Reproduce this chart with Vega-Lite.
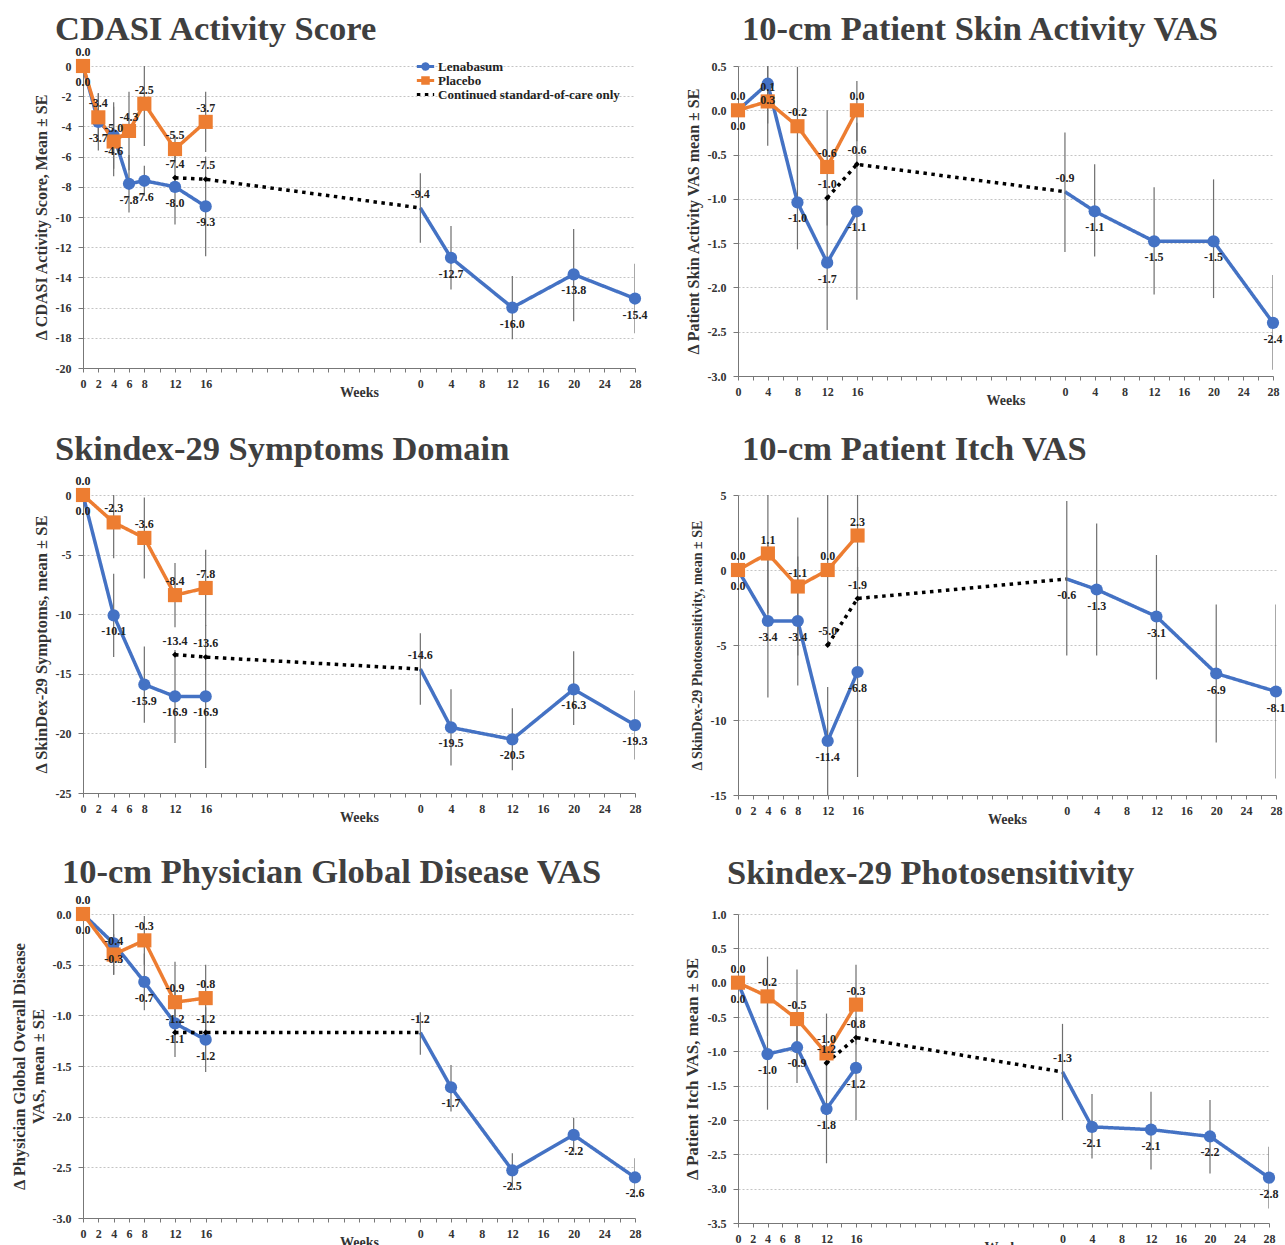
{
  "$schema": "https://vega.github.io/schema/vega-lite/v6.json",
  "padding": {"left": 11, "top": 11, "right": 0, "bottom": 0},
  "datasets": {
    "d": [
      {"p":1,"s":"Lenabasum","per":"DB","t":0,"v":0},
      {"p":1,"s":"Lenabasum","per":"DB","t":2,"v":-3.7,"lo":-5.6,"hi":-1.8},
      {"p":1,"s":"Lenabasum","per":"DB","t":4,"v":-4.6,"lo":-6.8,"hi":-2.4},
      {"p":1,"s":"Lenabasum","per":"DB","t":6,"v":-7.8,"lo":-9.7,"hi":-5.9},
      {"p":1,"s":"Lenabasum","per":"DB","t":8,"v":-7.6,"lo":-8.6,"hi":-6.6},
      {"p":1,"s":"Lenabasum","per":"DB","t":12,"v":-8.0,"lo":-10.5,"hi":-5.5},
      {"p":1,"s":"Lenabasum","per":"DB","t":16,"v":-9.3,"lo":-12.6,"hi":-6.0},
      {"p":1,"s":"Lenabasum","per":"OLE","t":44,"v":-9.4,"lo":-11.7,"hi":-7.1},
      {"p":1,"s":"Lenabasum","per":"OLE","t":48,"v":-12.7,"lo":-14.8,"hi":-10.6},
      {"p":1,"s":"Lenabasum","per":"OLE","t":56,"v":-16.0,"lo":-18.1,"hi":-13.9},
      {"p":1,"s":"Lenabasum","per":"OLE","t":64,"v":-13.8,"lo":-16.9,"hi":-10.8},
      {"p":1,"s":"Lenabasum","per":"OLE","t":72,"v":-15.4,"lo":-17.7,"hi":-13.1},
      {"p":1,"s":"Placebo","per":"DB","t":0,"v":0},
      {"p":1,"s":"Placebo","per":"DB","t":2,"v":-3.4,"lo":-5.0,"hi":-1.8},
      {"p":1,"s":"Placebo","per":"DB","t":4,"v":-5.0,"lo":-7.3,"hi":-2.7},
      {"p":1,"s":"Placebo","per":"DB","t":6,"v":-4.3,"lo":-6.9,"hi":-1.7},
      {"p":1,"s":"Placebo","per":"DB","t":8,"v":-2.5,"lo":-5.3,"hi":0},
      {"p":1,"s":"Placebo","per":"DB","t":12,"v":-5.5,"lo":-6.4,"hi":-4.6},
      {"p":1,"s":"Placebo","per":"DB","t":16,"v":-3.7,"lo":-5.7,"hi":-1.7},
      {"p":1,"s":"Continued standard-of-care only","per":"SOC","t":12,"v":-7.4},
      {"p":1,"s":"Continued standard-of-care only","per":"SOC","t":16,"v":-7.5},
      {"p":1,"s":"Continued standard-of-care only","per":"SOC","t":44,"v":-9.4},

      {"p":2,"s":"Lenabasum","per":"DB","t":0,"v":0},
      {"p":2,"s":"Lenabasum","per":"DB","t":4,"v":0.3,"lo":-0.15,"hi":0.5},
      {"p":2,"s":"Lenabasum","per":"DB","t":8,"v":-1.04,"lo":-1.57,"hi":-0.51},
      {"p":2,"s":"Lenabasum","per":"DB","t":12,"v":-1.72,"lo":-2.48,"hi":-0.96},
      {"p":2,"s":"Lenabasum","per":"DB","t":16,"v":-1.14,"lo":-2.14,"hi":-0.14},
      {"p":2,"s":"Lenabasum","per":"OLE","t":44,"v":-0.92,"lo":-1.6,"hi":-0.25},
      {"p":2,"s":"Lenabasum","per":"OLE","t":48,"v":-1.14,"lo":-1.65,"hi":-0.61},
      {"p":2,"s":"Lenabasum","per":"OLE","t":56,"v":-1.48,"lo":-2.08,"hi":-0.87},
      {"p":2,"s":"Lenabasum","per":"OLE","t":64,"v":-1.48,"lo":-2.12,"hi":-0.78},
      {"p":2,"s":"Lenabasum","per":"OLE","t":72,"v":-2.4,"lo":-2.93,"hi":-1.86},
      {"p":2,"s":"Placebo","per":"DB","t":0,"v":0},
      {"p":2,"s":"Placebo","per":"DB","t":4,"v":0.1,"lo":-0.4,"hi":0.5},
      {"p":2,"s":"Placebo","per":"DB","t":8,"v":-0.18,"lo":-0.85,"hi":0.49},
      {"p":2,"s":"Placebo","per":"DB","t":12,"v":-0.64,"lo":-1.3,"hi":0.0},
      {"p":2,"s":"Placebo","per":"DB","t":16,"v":0.0,"lo":-0.35,"hi":0.33},
      {"p":2,"s":"Continued standard-of-care only","per":"SOC","t":12,"v":-0.99},
      {"p":2,"s":"Continued standard-of-care only","per":"SOC","t":16,"v":-0.61},
      {"p":2,"s":"Continued standard-of-care only","per":"SOC","t":44,"v":-0.92},

      {"p":3,"s":"Lenabasum","per":"DB","t":0,"v":0},
      {"p":3,"s":"Lenabasum","per":"DB","t":4,"v":-10.1,"lo":-13.6,"hi":-6.6},
      {"p":3,"s":"Lenabasum","per":"DB","t":8,"v":-15.9,"lo":-19.1,"hi":-12.7},
      {"p":3,"s":"Lenabasum","per":"DB","t":12,"v":-16.9,"lo":-20.8,"hi":-13.0},
      {"p":3,"s":"Lenabasum","per":"DB","t":16,"v":-16.9,"lo":-22.9,"hi":-10.9},
      {"p":3,"s":"Lenabasum","per":"OLE","t":44,"v":-14.6,"lo":-17.6,"hi":-11.6},
      {"p":3,"s":"Lenabasum","per":"OLE","t":48,"v":-19.5,"lo":-22.7,"hi":-16.3},
      {"p":3,"s":"Lenabasum","per":"OLE","t":56,"v":-20.5,"lo":-23.1,"hi":-17.9},
      {"p":3,"s":"Lenabasum","per":"OLE","t":64,"v":-16.3,"lo":-19.3,"hi":-13.1},
      {"p":3,"s":"Lenabasum","per":"OLE","t":72,"v":-19.3,"lo":-22.2,"hi":-16.4},
      {"p":3,"s":"Placebo","per":"DB","t":0,"v":0},
      {"p":3,"s":"Placebo","per":"DB","t":4,"v":-2.3,"lo":-5.3,"hi":0},
      {"p":3,"s":"Placebo","per":"DB","t":8,"v":-3.6,"lo":-7.0,"hi":-0.2},
      {"p":3,"s":"Placebo","per":"DB","t":12,"v":-8.4,"lo":-11.1,"hi":-5.7},
      {"p":3,"s":"Placebo","per":"DB","t":16,"v":-7.8,"lo":-11.0,"hi":-4.6},
      {"p":3,"s":"Continued standard-of-care only","per":"SOC","t":12,"v":-13.4},
      {"p":3,"s":"Continued standard-of-care only","per":"SOC","t":16,"v":-13.6},
      {"p":3,"s":"Continued standard-of-care only","per":"SOC","t":44,"v":-14.6},

      {"p":4,"s":"Lenabasum","per":"DB","t":0,"v":0},
      {"p":4,"s":"Lenabasum","per":"DB","t":4,"v":-3.4,"lo":-8.5,"hi":1.7},
      {"p":4,"s":"Lenabasum","per":"DB","t":8,"v":-3.4,"lo":-7.7,"hi":0.9},
      {"p":4,"s":"Lenabasum","per":"DB","t":12,"v":-11.4,"lo":-15.0,"hi":-7.8},
      {"p":4,"s":"Lenabasum","per":"DB","t":16,"v":-6.8,"lo":-13.8,"hi":0.2},
      {"p":4,"s":"Lenabasum","per":"OLE","t":44,"v":-0.6,"lo":-5.7,"hi":4.6},
      {"p":4,"s":"Lenabasum","per":"OLE","t":48,"v":-1.3,"lo":-5.7,"hi":3.1},
      {"p":4,"s":"Lenabasum","per":"OLE","t":56,"v":-3.1,"lo":-7.3,"hi":1.0},
      {"p":4,"s":"Lenabasum","per":"OLE","t":64,"v":-6.9,"lo":-11.5,"hi":-2.3},
      {"p":4,"s":"Lenabasum","per":"OLE","t":72,"v":-8.1,"lo":-13.9,"hi":-2.3},
      {"p":4,"s":"Placebo","per":"DB","t":0,"v":0},
      {"p":4,"s":"Placebo","per":"DB","t":4,"v":1.1,"lo":-2.9,"hi":5.0},
      {"p":4,"s":"Placebo","per":"DB","t":8,"v":-1.1,"lo":-5.7,"hi":3.5},
      {"p":4,"s":"Placebo","per":"DB","t":12,"v":0.0,"lo":-5.0,"hi":5.0},
      {"p":4,"s":"Placebo","per":"DB","t":16,"v":2.3,"lo":-0.7,"hi":5.0},
      {"p":4,"s":"Continued standard-of-care only","per":"SOC","t":12,"v":-5.0},
      {"p":4,"s":"Continued standard-of-care only","per":"SOC","t":16,"v":-1.9},
      {"p":4,"s":"Continued standard-of-care only","per":"SOC","t":44,"v":-0.6},

      {"p":5,"s":"Lenabasum","per":"DB","t":0,"v":0},
      {"p":5,"s":"Lenabasum","per":"DB","t":4,"v":-0.29,"lo":-0.6,"hi":0.0},
      {"p":5,"s":"Lenabasum","per":"DB","t":8,"v":-0.67,"lo":-0.95,"hi":-0.39},
      {"p":5,"s":"Lenabasum","per":"DB","t":12,"v":-1.08,"lo":-1.41,"hi":-0.75},
      {"p":5,"s":"Lenabasum","per":"DB","t":16,"v":-1.24,"lo":-1.56,"hi":-0.92},
      {"p":5,"s":"Lenabasum","per":"OLE","t":44,"v":-1.17,"lo":-1.39,"hi":-0.97},
      {"p":5,"s":"Lenabasum","per":"OLE","t":48,"v":-1.71,"lo":-1.95,"hi":-1.49},
      {"p":5,"s":"Lenabasum","per":"OLE","t":56,"v":-2.53,"lo":-2.7,"hi":-2.36},
      {"p":5,"s":"Lenabasum","per":"OLE","t":64,"v":-2.18,"lo":-2.35,"hi":-2.01},
      {"p":5,"s":"Lenabasum","per":"OLE","t":72,"v":-2.6,"lo":-2.8,"hi":-2.41},
      {"p":5,"s":"Placebo","per":"DB","t":0,"v":0},
      {"p":5,"s":"Placebo","per":"DB","t":4,"v":-0.4,"lo":-0.6,"hi":-0.2},
      {"p":5,"s":"Placebo","per":"DB","t":8,"v":-0.26,"lo":-0.5,"hi":-0.02},
      {"p":5,"s":"Placebo","per":"DB","t":12,"v":-0.87,"lo":-1.27,"hi":-0.47},
      {"p":5,"s":"Placebo","per":"DB","t":16,"v":-0.83,"lo":-1.16,"hi":-0.5},
      {"p":5,"s":"Continued standard-of-care only","per":"SOC","t":12,"v":-1.17},
      {"p":5,"s":"Continued standard-of-care only","per":"SOC","t":16,"v":-1.17},
      {"p":5,"s":"Continued standard-of-care only","per":"SOC","t":44,"v":-1.17},

      {"p":6,"s":"Lenabasum","per":"DB","t":0,"v":0},
      {"p":6,"s":"Lenabasum","per":"DB","t":4,"v":-1.04,"lo":-1.85,"hi":-0.25},
      {"p":6,"s":"Lenabasum","per":"DB","t":8,"v":-0.94,"lo":-1.46,"hi":-0.46},
      {"p":6,"s":"Lenabasum","per":"DB","t":12,"v":-1.84,"lo":-2.63,"hi":-1.09},
      {"p":6,"s":"Lenabasum","per":"DB","t":16,"v":-1.24,"lo":-2.0,"hi":-0.5},
      {"p":6,"s":"Lenabasum","per":"OLE","t":44,"v":-1.3,"lo":-2.0,"hi":-0.6},
      {"p":6,"s":"Lenabasum","per":"OLE","t":48,"v":-2.1,"lo":-2.56,"hi":-1.62},
      {"p":6,"s":"Lenabasum","per":"OLE","t":56,"v":-2.14,"lo":-2.72,"hi":-1.59},
      {"p":6,"s":"Lenabasum","per":"OLE","t":64,"v":-2.24,"lo":-2.78,"hi":-1.71},
      {"p":6,"s":"Lenabasum","per":"OLE","t":72,"v":-2.84,"lo":-3.29,"hi":-2.39},
      {"p":6,"s":"Placebo","per":"DB","t":0,"v":0},
      {"p":6,"s":"Placebo","per":"DB","t":4,"v":-0.2,"lo":-0.78,"hi":0.38},
      {"p":6,"s":"Placebo","per":"DB","t":8,"v":-0.53,"lo":-1.25,"hi":0.19},
      {"p":6,"s":"Placebo","per":"DB","t":12,"v":-1.03,"lo":-1.61,"hi":-0.45},
      {"p":6,"s":"Placebo","per":"DB","t":16,"v":-0.32,"lo":-0.9,"hi":0.26},
      {"p":6,"s":"Continued standard-of-care only","per":"SOC","t":12,"v":-1.17},
      {"p":6,"s":"Continued standard-of-care only","per":"SOC","t":16,"v":-0.8},
      {"p":6,"s":"Continued standard-of-care only","per":"SOC","t":44,"v":-1.3}
    ]
  },
  "config": {
    "font": "Liberation Serif",
    "view": {"stroke": null},
    "locale": {"number": {"decimal": ".", "thousands": ",", "grouping": [3], "currency": ["$", ""], "minus": "-"}},
    "title": {"font": "Liberation Serif", "fontWeight": "bold", "fontSize": 34.5, "color": "#3f3f3f", "anchor": "start", "frame": "group", "baseline": "alphabetic"},
    "axis": {"labelFont": "Liberation Serif", "labelFontWeight": "bold", "labelColor": "#333333", "titleFont": "Liberation Serif", "titleFontWeight": "bold", "titleColor": "#333333", "domainColor": "#777777", "tickColor": "#777777", "gridColor": "#c4c4c4", "gridDash": [2, 2]},
    "axisY": {"labelFontSize": 12, "tickSize": 5, "labelPadding": 7, "titleFontSize": 16, "titlePadding": 6},
    "axisX": {"labelFontSize": 12, "tickSize": 4, "labelPadding": 6, "titleFontSize": 14, "titlePadding": -4, "grid": false, "labelOverlap": false, "labelFlush": false, "labelAngle": 0}
  },
  "columns": 2,
  "bounds": "flush",
  "spacing": {"row": 119, "column": 103},
  "resolve": {"scale": {"x": "independent", "y": "independent", "color": "independent", "strokeDash": "independent"}},
  "concat": [
    {
      "width": 552, "height": 302,
      "title": {"text": "CDASI Activity Score", "dx": -28, "offset": -1},
      "data": {"name": "d"},
      "transform": [{"filter": "datum.p == 1"}],
      "encoding": {
        "x": {"field": "t", "type": "quantitative", "scale": {"domain": [0, 72], "nice": false, "zero": false},
          "axis": {"title": "Weeks", "values": [0,2,4,6,8,10,12,14,16,18,20,22,24,26,28,30,32,34,36,38,40,42,44,46,48,50,52,54,56,58,60,62,64,66,68,70,72],
            "labelExpr": "datum.value <= 16 ? (indexof([0,2,4,6,8,12,16], datum.value) >= 0 ? '' + datum.value : '') : (datum.value >= 44 && (datum.value - 44) % 4 == 0 ? '' + (datum.value - 44) : '')"}},
        "y": {"field": "v", "type": "quantitative", "scale": {"domain": [-20, 0], "nice": false, "zero": false},
          "axis": {"title": "Δ CDASI Activity Score, Mean ± SE", "titleFontSize": 16, "values": [-20,-18,-16,-14,-12,-10,-8,-6,-4,-2,0], "format": "d", "grid": true}}
      },
      "layer": [
        {"mark": {"type": "line", "strokeWidth": 3.5, "strokeCap": "butt"},
          "encoding": {
            "color": {"field": "s", "type": "nominal", "scale": {"domain": ["Lenabasum", "Placebo", "Continued standard-of-care only"], "range": ["#4472C4", "#ED7D31", "#000000"]},
              "legend": {"orient": "none", "legendX": 332, "legendY": -6, "title": null, "symbolType": "stroke", "symbolStrokeWidth": 3, "symbolSize": 300, "symbolDash": [1, 0], "clipHeight": 13, "labelFont": "Liberation Serif", "labelFontWeight": "bold", "labelFontSize": 13, "labelColor": "#222222", "labelLimit": 400, "rowPadding": 0, "labelOffset": 2, "padding": 0,
                "encode": {"symbols": {"update": {
                  "shape": {"signal": "datum.value == 'Lenabasum' ? 'M-1,0L1,0M0.32,0A0.32,0.32,0,1,1,-0.32,0A0.32,0.32,0,1,1,0.32,0Z' : (datum.value == 'Placebo' ? 'M-1,0L1,0M-0.32,-0.32L0.32,-0.32L0.32,0.32L-0.32,0.32Z' : 'M-1,0L1,0')"},
                  "fill": {"signal": "datum.value == 'Lenabasum' ? '#4472C4' : (datum.value == 'Placebo' ? '#ED7D31' : '#000000')"},
                  "strokeDash": {"signal": "[1, 0]"}}}}}},
            "strokeDash": {"field": "s", "type": "nominal", "scale": {"domain": ["Lenabasum", "Placebo", "Continued standard-of-care only"], "range": [[1, 0], [1, 0], [3.5, 4.5]]}, "legend": null},
            "detail": {"field": "per"}}},
        {"transform": [{"filter": "isValid(datum.lo)"}], "mark": {"type": "rule", "color": "#6e6e6e", "strokeWidth": 1.2, "clip": true},
          "encoding": {"y": {"field": "lo", "type": "quantitative", "scale": {"domain": [-20, 0], "nice": false, "zero": false},
            "axis": {"title": "Δ CDASI Activity Score, Mean ± SE", "titleFontSize": 16, "values": [-20,-18,-16,-14,-12,-10,-8,-6,-4,-2,0], "format": "d", "grid": true}}, "y2": {"field": "hi"}}},
        {"transform": [{"filter": "datum.s == 'Lenabasum' && datum.t != 44"}], "mark": {"type": "point", "shape": "circle", "filled": true, "size": 150, "color": "#4472C4", "opacity": 1}},
        {"transform": [{"filter": "datum.s == 'Placebo'"}], "mark": {"type": "point", "shape": "square", "filled": true, "size": 200, "color": "#ED7D31", "opacity": 1}},
        {"transform": [{"filter": "datum.per == 'SOC' && datum.t <= 16"}], "mark": {"type": "point", "shape": "diamond", "filled": true, "size": 35, "color": "#000000", "opacity": 1}},
        {"transform": [{"filter": "datum.s == 'Placebo' || (datum.per == 'SOC' && datum.t <= 16) || (datum.s == 'Lenabasum' && datum.t == 44)"}],
          "mark": {"type": "text", "dy": -14, "fontSize": 12, "fontWeight": "bold", "color": "#222222"},
          "encoding": {"text": {"field": "v", "type": "quantitative", "format": ".1f"}}},
        {"transform": [{"filter": "datum.s == 'Lenabasum' && datum.t != 44"}],
          "mark": {"type": "text", "dy": 16, "fontSize": 12, "fontWeight": "bold", "color": "#222222"},
          "encoding": {"text": {"field": "v", "type": "quantitative", "format": ".1f"}}}
      ]
    },
    {
      "width": 535, "height": 310,
      "title": {"text": "10-cm Patient Skin Activity VAS", "dx": 4, "offset": 13},
      "data": {"name": "d"},
      "transform": [{"filter": "datum.p == 2"}],
      "encoding": {
        "x": {"field": "t", "type": "quantitative", "scale": {"domain": [0, 72], "nice": false, "zero": false},
          "axis": {"title": "Weeks", "values": [0,2,4,6,8,10,12,14,16,18,20,22,24,26,28,30,32,34,36,38,40,42,44,46,48,50,52,54,56,58,60,62,64,66,68,70,72],
            "labelExpr": "datum.value <= 16 ? (indexof([0,4,8,12,16], datum.value) >= 0 ? '' + datum.value : '') : (datum.value >= 44 && (datum.value - 44) % 4 == 0 ? '' + (datum.value - 44) : '')"}},
        "y": {"field": "v", "type": "quantitative", "scale": {"domain": [-3, 0.5], "nice": false, "zero": false},
          "axis": {"title": "Δ Patient Skin Activity VAS mean ± SE", "titleFontSize": 16, "values": [-3,-2.5,-2,-1.5,-1,-0.5,0,0.5], "format": ".1f", "grid": true}}
      },
      "layer": [
        {"mark": {"type": "line", "strokeWidth": 3.5, "strokeCap": "butt"},
          "encoding": {
            "color": {"field": "s", "type": "nominal", "scale": {"domain": ["Lenabasum", "Placebo", "Continued standard-of-care only"], "range": ["#4472C4", "#ED7D31", "#000000"]}, "legend": null},
            "strokeDash": {"field": "s", "type": "nominal", "scale": {"domain": ["Lenabasum", "Placebo", "Continued standard-of-care only"], "range": [[1, 0], [1, 0], [3.5, 4.5]]}, "legend": null},
            "detail": {"field": "per"}}},
        {"transform": [{"filter": "isValid(datum.lo)"}], "mark": {"type": "rule", "color": "#6e6e6e", "strokeWidth": 1.2, "clip": true},
          "encoding": {"y": {"field": "lo", "type": "quantitative", "scale": {"domain": [-3, 0.5], "nice": false, "zero": false},
            "axis": {"title": "Δ Patient Skin Activity VAS mean ± SE", "titleFontSize": 16, "values": [-3,-2.5,-2,-1.5,-1,-0.5,0,0.5], "format": ".1f", "grid": true}}, "y2": {"field": "hi"}}},
        {"transform": [{"filter": "datum.s == 'Lenabasum' && datum.t != 44"}], "mark": {"type": "point", "shape": "circle", "filled": true, "size": 150, "color": "#4472C4", "opacity": 1}},
        {"transform": [{"filter": "datum.s == 'Placebo'"}], "mark": {"type": "point", "shape": "square", "filled": true, "size": 200, "color": "#ED7D31", "opacity": 1}},
        {"transform": [{"filter": "datum.per == 'SOC' && datum.t <= 16"}], "mark": {"type": "point", "shape": "diamond", "filled": true, "size": 35, "color": "#000000", "opacity": 1}},
        {"transform": [{"filter": "datum.s == 'Placebo' || (datum.per == 'SOC' && datum.t <= 16) || (datum.s == 'Lenabasum' && datum.t == 44)"}],
          "mark": {"type": "text", "dy": -14, "fontSize": 12, "fontWeight": "bold", "color": "#222222"},
          "encoding": {"text": {"field": "v", "type": "quantitative", "format": ".1f"}}},
        {"transform": [{"filter": "datum.s == 'Lenabasum' && datum.t != 44"}],
          "mark": {"type": "text", "dy": 16, "fontSize": 12, "fontWeight": "bold", "color": "#222222"},
          "encoding": {"text": {"field": "v", "type": "quantitative", "format": ".1f"}}}
      ]
    },
    {
      "width": 552, "height": 298,
      "title": {"text": "Skindex-29 Symptoms Domain", "dx": -28, "offset": 8},
      "data": {"name": "d"},
      "transform": [{"filter": "datum.p == 3"}],
      "encoding": {
        "x": {"field": "t", "type": "quantitative", "scale": {"domain": [0, 72], "nice": false, "zero": false},
          "axis": {"title": "Weeks", "values": [0,2,4,6,8,10,12,14,16,18,20,22,24,26,28,30,32,34,36,38,40,42,44,46,48,50,52,54,56,58,60,62,64,66,68,70,72],
            "labelExpr": "datum.value <= 16 ? (indexof([0,2,4,6,8,12,16], datum.value) >= 0 ? '' + datum.value : '') : (datum.value >= 44 && (datum.value - 44) % 4 == 0 ? '' + (datum.value - 44) : '')"}},
        "y": {"field": "v", "type": "quantitative", "scale": {"domain": [-25, 0], "nice": false, "zero": false},
          "axis": {"title": "Δ SkinDex-29 Symptoms,  mean ± SE", "titleFontSize": 16.5, "values": [-25,-20,-15,-10,-5,0], "format": "d", "grid": true}}
      },
      "layer": [
        {"mark": {"type": "line", "strokeWidth": 3.5, "strokeCap": "butt"},
          "encoding": {
            "color": {"field": "s", "type": "nominal", "scale": {"domain": ["Lenabasum", "Placebo", "Continued standard-of-care only"], "range": ["#4472C4", "#ED7D31", "#000000"]}, "legend": null},
            "strokeDash": {"field": "s", "type": "nominal", "scale": {"domain": ["Lenabasum", "Placebo", "Continued standard-of-care only"], "range": [[1, 0], [1, 0], [3.5, 4.5]]}, "legend": null},
            "detail": {"field": "per"}}},
        {"transform": [{"filter": "isValid(datum.lo)"}], "mark": {"type": "rule", "color": "#6e6e6e", "strokeWidth": 1.2, "clip": true},
          "encoding": {"y": {"field": "lo", "type": "quantitative", "scale": {"domain": [-25, 0], "nice": false, "zero": false},
            "axis": {"title": "Δ SkinDex-29 Symptoms,  mean ± SE", "titleFontSize": 16.5, "values": [-25,-20,-15,-10,-5,0], "format": "d", "grid": true}}, "y2": {"field": "hi"}}},
        {"transform": [{"filter": "datum.s == 'Lenabasum' && datum.t != 44"}], "mark": {"type": "point", "shape": "circle", "filled": true, "size": 150, "color": "#4472C4", "opacity": 1}},
        {"transform": [{"filter": "datum.s == 'Placebo'"}], "mark": {"type": "point", "shape": "square", "filled": true, "size": 200, "color": "#ED7D31", "opacity": 1}},
        {"transform": [{"filter": "datum.per == 'SOC' && datum.t <= 16"}], "mark": {"type": "point", "shape": "diamond", "filled": true, "size": 35, "color": "#000000", "opacity": 1}},
        {"transform": [{"filter": "datum.s == 'Placebo' || (datum.per == 'SOC' && datum.t <= 16) || (datum.s == 'Lenabasum' && datum.t == 44)"}],
          "mark": {"type": "text", "dy": -14, "fontSize": 12, "fontWeight": "bold", "color": "#222222"},
          "encoding": {"text": {"field": "v", "type": "quantitative", "format": ".1f"}}},
        {"transform": [{"filter": "datum.s == 'Lenabasum' && datum.t != 44"}],
          "mark": {"type": "text", "dy": 16, "fontSize": 12, "fontWeight": "bold", "color": "#222222"},
          "encoding": {"text": {"field": "v", "type": "quantitative", "format": ".1f"}}}
      ]
    },
    {
      "width": 538, "height": 300,
      "title": {"text": "10-cm Patient Itch VAS", "dx": 4, "offset": 22},
      "data": {"name": "d"},
      "transform": [{"filter": "datum.p == 4"}],
      "encoding": {
        "x": {"field": "t", "type": "quantitative", "scale": {"domain": [0, 72], "nice": false, "zero": false},
          "axis": {"title": "Weeks", "values": [0,2,4,6,8,10,12,14,16,18,20,22,24,26,28,30,32,34,36,38,40,42,44,46,48,50,52,54,56,58,60,62,64,66,68,70,72],
            "labelExpr": "datum.value <= 16 ? (indexof([0,2,4,6,8,12,16], datum.value) >= 0 ? '' + datum.value : '') : (datum.value >= 44 && (datum.value - 44) % 4 == 0 ? '' + (datum.value - 44) : '')"}},
        "y": {"field": "v", "type": "quantitative", "scale": {"domain": [-15, 5], "nice": false, "zero": false},
          "axis": {"title": "Δ SkinDex-29 Photosensitivity, mean ± SE", "titleFontSize": 14, "values": [-15,-10,-5,0,5], "format": "d", "grid": true}}
      },
      "layer": [
        {"mark": {"type": "line", "strokeWidth": 3.5, "strokeCap": "butt"},
          "encoding": {
            "color": {"field": "s", "type": "nominal", "scale": {"domain": ["Lenabasum", "Placebo", "Continued standard-of-care only"], "range": ["#4472C4", "#ED7D31", "#000000"]}, "legend": null},
            "strokeDash": {"field": "s", "type": "nominal", "scale": {"domain": ["Lenabasum", "Placebo", "Continued standard-of-care only"], "range": [[1, 0], [1, 0], [3.5, 4.5]]}, "legend": null},
            "detail": {"field": "per"}}},
        {"transform": [{"filter": "isValid(datum.lo)"}], "mark": {"type": "rule", "color": "#6e6e6e", "strokeWidth": 1.2, "clip": true},
          "encoding": {"y": {"field": "lo", "type": "quantitative", "scale": {"domain": [-15, 5], "nice": false, "zero": false},
            "axis": {"title": "Δ SkinDex-29 Photosensitivity, mean ± SE", "titleFontSize": 14, "values": [-15,-10,-5,0,5], "format": "d", "grid": true}}, "y2": {"field": "hi"}}},
        {"transform": [{"filter": "datum.s == 'Lenabasum' && datum.t != 44"}], "mark": {"type": "point", "shape": "circle", "filled": true, "size": 150, "color": "#4472C4", "opacity": 1}},
        {"transform": [{"filter": "datum.s == 'Placebo'"}], "mark": {"type": "point", "shape": "square", "filled": true, "size": 200, "color": "#ED7D31", "opacity": 1}},
        {"transform": [{"filter": "datum.per == 'SOC' && datum.t <= 16"}], "mark": {"type": "point", "shape": "diamond", "filled": true, "size": 35, "color": "#000000", "opacity": 1}},
        {"transform": [{"filter": "datum.s == 'Placebo' || (datum.per == 'SOC' && datum.t <= 16)"}],
          "mark": {"type": "text", "dy": -14, "fontSize": 12, "fontWeight": "bold", "color": "#222222"},
          "encoding": {"text": {"field": "v", "type": "quantitative", "format": ".1f"}}},
        {"transform": [{"filter": "datum.s == 'Lenabasum'"}],
          "mark": {"type": "text", "dy": 16, "fontSize": 12, "fontWeight": "bold", "color": "#222222"},
          "encoding": {"text": {"field": "v", "type": "quantitative", "format": ".1f"}}}
      ]
    },
    {
      "width": 552, "height": 304,
      "title": {"text": "10-cm Physician Global Disease VAS", "dx": -21, "offset": 4},
      "data": {"name": "d"},
      "transform": [{"filter": "datum.p == 5"}],
      "encoding": {
        "x": {"field": "t", "type": "quantitative", "scale": {"domain": [0, 72], "nice": false, "zero": false},
          "axis": {"title": "Weeks", "values": [0,2,4,6,8,10,12,14,16,18,20,22,24,26,28,30,32,34,36,38,40,42,44,46,48,50,52,54,56,58,60,62,64,66,68,70,72],
            "labelExpr": "datum.value <= 16 ? (indexof([0,2,4,6,8,12,16], datum.value) >= 0 ? '' + datum.value : '') : (datum.value >= 44 && (datum.value - 44) % 4 == 0 ? '' + (datum.value - 44) : '')"}},
        "y": {"field": "v", "type": "quantitative", "scale": {"domain": [-3, 0], "nice": false, "zero": false},
          "axis": {"title": ["Δ Physician Global Overall Disease", "VAS, mean ± SE"], "titleFontSize": 16.5, "values": [-3,-2.5,-2,-1.5,-1,-0.5,0], "format": ".1f", "grid": true}}
      },
      "layer": [
        {"mark": {"type": "line", "strokeWidth": 3.5, "strokeCap": "butt"},
          "encoding": {
            "color": {"field": "s", "type": "nominal", "scale": {"domain": ["Lenabasum", "Placebo", "Continued standard-of-care only"], "range": ["#4472C4", "#ED7D31", "#000000"]}, "legend": null},
            "strokeDash": {"field": "s", "type": "nominal", "scale": {"domain": ["Lenabasum", "Placebo", "Continued standard-of-care only"], "range": [[1, 0], [1, 0], [3.5, 4.5]]}, "legend": null},
            "detail": {"field": "per"}}},
        {"transform": [{"filter": "isValid(datum.lo)"}], "mark": {"type": "rule", "color": "#6e6e6e", "strokeWidth": 1.2, "clip": true},
          "encoding": {"y": {"field": "lo", "type": "quantitative", "scale": {"domain": [-3, 0], "nice": false, "zero": false},
            "axis": {"title": ["Δ Physician Global Overall Disease", "VAS, mean ± SE"], "titleFontSize": 16.5, "values": [-3,-2.5,-2,-1.5,-1,-0.5,0], "format": ".1f", "grid": true}}, "y2": {"field": "hi"}}},
        {"transform": [{"filter": "datum.s == 'Lenabasum' && datum.t != 44"}], "mark": {"type": "point", "shape": "circle", "filled": true, "size": 150, "color": "#4472C4", "opacity": 1}},
        {"transform": [{"filter": "datum.s == 'Placebo'"}], "mark": {"type": "point", "shape": "square", "filled": true, "size": 200, "color": "#ED7D31", "opacity": 1}},
        {"transform": [{"filter": "datum.per == 'SOC' && datum.t <= 16"}], "mark": {"type": "point", "shape": "diamond", "filled": true, "size": 35, "color": "#000000", "opacity": 1}},
        {"transform": [{"filter": "datum.s == 'Placebo' || (datum.per == 'SOC' && datum.t <= 16) || (datum.s == 'Lenabasum' && datum.t == 44)"}],
          "mark": {"type": "text", "dy": -14, "fontSize": 12, "fontWeight": "bold", "color": "#222222"},
          "encoding": {"text": {"field": "v", "type": "quantitative", "format": ".1f"}}},
        {"transform": [{"filter": "datum.s == 'Lenabasum' && datum.t != 44"}],
          "mark": {"type": "text", "dy": 16, "fontSize": 12, "fontWeight": "bold", "color": "#222222"},
          "encoding": {"text": {"field": "v", "type": "quantitative", "format": ".1f"}}}
      ]
    },
    {
      "width": 531, "height": 309,
      "title": {"text": "Skindex-29 Photosensitivity", "dx": -11, "offset": 17},
      "data": {"name": "d"},
      "transform": [{"filter": "datum.p == 6"}],
      "encoding": {
        "x": {"field": "t", "type": "quantitative", "scale": {"domain": [0, 72], "nice": false, "zero": false},
          "axis": {"title": "Weeks", "values": [0,2,4,6,8,10,12,14,16,18,20,22,24,26,28,30,32,34,36,38,40,42,44,46,48,50,52,54,56,58,60,62,64,66,68,70,72],
            "labelExpr": "datum.value <= 16 ? (indexof([0,2,4,6,8,12,16], datum.value) >= 0 ? '' + datum.value : '') : (datum.value >= 44 && (datum.value - 44) % 4 == 0 ? '' + (datum.value - 44) : '')"}},
        "y": {"field": "v", "type": "quantitative", "scale": {"domain": [-3.5, 1], "nice": false, "zero": false},
          "axis": {"title": "Δ Patient Itch VAS, mean ± SE", "titleFontSize": 17, "values": [-3.5,-3,-2.5,-2,-1.5,-1,-0.5,0,0.5,1], "format": ".1f", "grid": true}}
      },
      "layer": [
        {"mark": {"type": "line", "strokeWidth": 3.5, "strokeCap": "butt"},
          "encoding": {
            "color": {"field": "s", "type": "nominal", "scale": {"domain": ["Lenabasum", "Placebo", "Continued standard-of-care only"], "range": ["#4472C4", "#ED7D31", "#000000"]}, "legend": null},
            "strokeDash": {"field": "s", "type": "nominal", "scale": {"domain": ["Lenabasum", "Placebo", "Continued standard-of-care only"], "range": [[1, 0], [1, 0], [3.5, 4.5]]}, "legend": null},
            "detail": {"field": "per"}}},
        {"transform": [{"filter": "isValid(datum.lo)"}], "mark": {"type": "rule", "color": "#6e6e6e", "strokeWidth": 1.2, "clip": true},
          "encoding": {"y": {"field": "lo", "type": "quantitative", "scale": {"domain": [-3.5, 1], "nice": false, "zero": false},
            "axis": {"title": "Δ Patient Itch VAS, mean ± SE", "titleFontSize": 17, "values": [-3.5,-3,-2.5,-2,-1.5,-1,-0.5,0,0.5,1], "format": ".1f", "grid": true}}, "y2": {"field": "hi"}}},
        {"transform": [{"filter": "datum.s == 'Lenabasum' && datum.t != 44"}], "mark": {"type": "point", "shape": "circle", "filled": true, "size": 150, "color": "#4472C4", "opacity": 1}},
        {"transform": [{"filter": "datum.s == 'Placebo'"}], "mark": {"type": "point", "shape": "square", "filled": true, "size": 200, "color": "#ED7D31", "opacity": 1}},
        {"transform": [{"filter": "datum.per == 'SOC' && datum.t <= 16"}], "mark": {"type": "point", "shape": "diamond", "filled": true, "size": 35, "color": "#000000", "opacity": 1}},
        {"transform": [{"filter": "datum.s == 'Placebo' || (datum.per == 'SOC' && datum.t <= 16) || (datum.s == 'Lenabasum' && datum.t == 44)"}],
          "mark": {"type": "text", "dy": -14, "fontSize": 12, "fontWeight": "bold", "color": "#222222"},
          "encoding": {"text": {"field": "v", "type": "quantitative", "format": ".1f"}}},
        {"transform": [{"filter": "datum.s == 'Lenabasum' && datum.t != 44"}],
          "mark": {"type": "text", "dy": 16, "fontSize": 12, "fontWeight": "bold", "color": "#222222"},
          "encoding": {"text": {"field": "v", "type": "quantitative", "format": ".1f"}}}
      ]
    }
  ]
}
